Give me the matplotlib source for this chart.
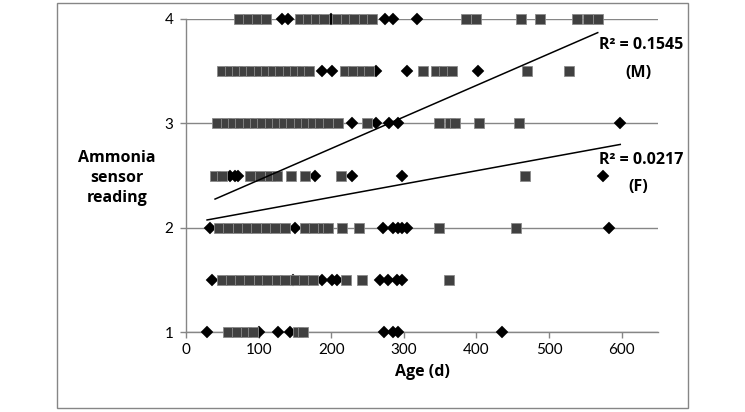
import matplotlib
matplotlib.use("Agg")
import matplotlib.pyplot as plt
from matplotlib.patches import Rectangle
import numpy as np

plt.rcParams['font.family'] = ['Lato', 'DejaVu Sans']

# ---- Data (ages in days) by ammonia sensor reading ----
# Male (squares)
m_age_4 = [73, 85, 98, 110, 157, 168, 179, 190, 208, 220, 231, 245, 256, 385, 400, 462, 487, 539, 553, 567]
m_age_35 = [50, 60, 70, 80, 90, 100, 110, 120, 130, 140, 150, 160, 170, 219, 230, 242, 252, 327, 344, 355, 366, 469, 528]
m_age_3 = [43, 55, 65, 75, 85, 95, 105, 115, 125, 135, 145, 155, 165, 175, 185, 195, 209, 249, 349, 363, 371, 403, 459]
m_age_25 = [40, 50, 88, 102, 116, 125, 144, 164, 213, 467]
m_age_2 = [45, 58, 71, 84, 97, 110, 123, 136, 164, 176, 188, 196, 215, 238, 348, 455]
m_age_15 = [50, 62, 75, 87, 100, 112, 125, 137, 150, 162, 175, 220, 242, 362]
m_age_1 = [58, 70, 83, 92, 154, 161]

# Female (diamonds)
f_age_4 = [132, 140, 200, 274, 285, 318]
f_age_35 = [187, 201, 261, 305, 402]
f_age_3 = [228, 262, 279, 292, 598]
f_age_25 = [60, 67, 72, 177, 228, 297, 574]
f_age_2 = [33, 150, 271, 285, 292, 298, 305, 583]
f_age_15 = [36, 147, 187, 201, 208, 267, 278, 290, 298]
f_age_1 = [29, 101, 127, 143, 272, 285, 292, 435]

levels = [4, 3.5, 3, 2.5, 2, 1.5, 1]
m_rows = [m_age_4, m_age_35, m_age_3, m_age_25, m_age_2, m_age_15, m_age_1]
f_rows = [f_age_4, f_age_35, f_age_3, f_age_25, f_age_2, f_age_15, f_age_1]

# Linear trendlines (slope, intercept)
m_trend = (0.003027, 2.153)
f_trend = (0.001272, 2.037)
m_r2_label = "R² = 0.1545"
f_r2_label = "R² = 0.0217"

x_ticks = [0, 100, 200, 300, 400, 500, 600]
y_ticks = [1, 2, 3, 4]

# ---- Build arrays ----
m_x = np.concatenate([np.array(r, float) for r in m_rows])
m_y = np.concatenate([np.full(len(r), lv) for r, lv in zip(m_rows, levels)])
f_x = np.concatenate([np.array(r, float) for r in f_rows])
f_y = np.concatenate([np.full(len(r), lv) for r, lv in zip(f_rows, levels)])

bold = dict(family=['Open Sans', 'DejaVu Sans'], fontweight='bold')

fig = plt.figure(figsize=(7.45, 4.12), dpi=100)
W, H = 745, 412
ax = fig.add_axes([186 / W, 1 - 332 / H, (658 - 186) / W, (332 - 19) / H])

grid_c = '#868686'
for yv in y_ticks:
    ax.axhline(yv, color=grid_c, lw=1.0, zorder=1)

ax.plot(f_x, f_y, linestyle='none', marker='D', ms=6.0, mfc='black', mec='black',
        mew=0.3, zorder=3, clip_on=False)
ax.plot(m_x, m_y, linestyle='none', marker='s', ms=7.2, mfc='#404040', mec='#8a8a8a',
        mew=0.6, zorder=4, clip_on=False)

# trendlines over each series' range
for (slope, icpt), xs in ((m_trend, m_x), (f_trend, f_x)):
    xx = np.array([xs.min(), xs.max()])
    ax.plot(xx, slope * xx + icpt, color='black', lw=1.1, zorder=5)

ax.set_xlim(0, 650)
ax.set_ylim(1, 4)
ax.set_xticks(x_ticks)
ax.set_yticks(y_ticks)
for s in ['top', 'right']:
    ax.spines[s].set_visible(False)
for s in ['left', 'bottom']:
    ax.spines[s].set_color(grid_c)
    ax.spines[s].set_linewidth(1.0)
ax.tick_params(axis='both', direction='out', length=4, width=1.0, color=grid_c,
               labelsize=11, labelcolor='black')
ax.tick_params(axis='x', pad=4)
ax.tick_params(axis='y', pad=5)

ax.set_xlabel('Age (d)', fontsize=11.5, labelpad=5, **bold)
fig.text(117 / W, 1 - 178 / H, 'Ammonia\nsensor\nreading', ha='center', va='center',
         fontsize=11.5, linespacing=1.3, **bold)

fig.text(641 / W, 1 - 45 / H, m_r2_label, ha='center', va='center', fontsize=11.5, **bold)
fig.text(638 / W, 1 - 73 / H, '(M)', ha='center', va='center', fontsize=11.5, **bold)
fig.text(641 / W, 1 - 160 / H, f_r2_label, ha='center', va='center', fontsize=11.5, **bold)
fig.text(638 / W, 1 - 187 / H, '(F)', ha='center', va='center', fontsize=11.5, **bold)

fig.patches.append(Rectangle((57 / W, 1 - 408 / H), (688 - 57) / W, (408 - 3) / H,
                             transform=fig.transFigure, fill=False, edgecolor=grid_c, lw=1.0))

fig.savefig('out.png', dpi=100)
